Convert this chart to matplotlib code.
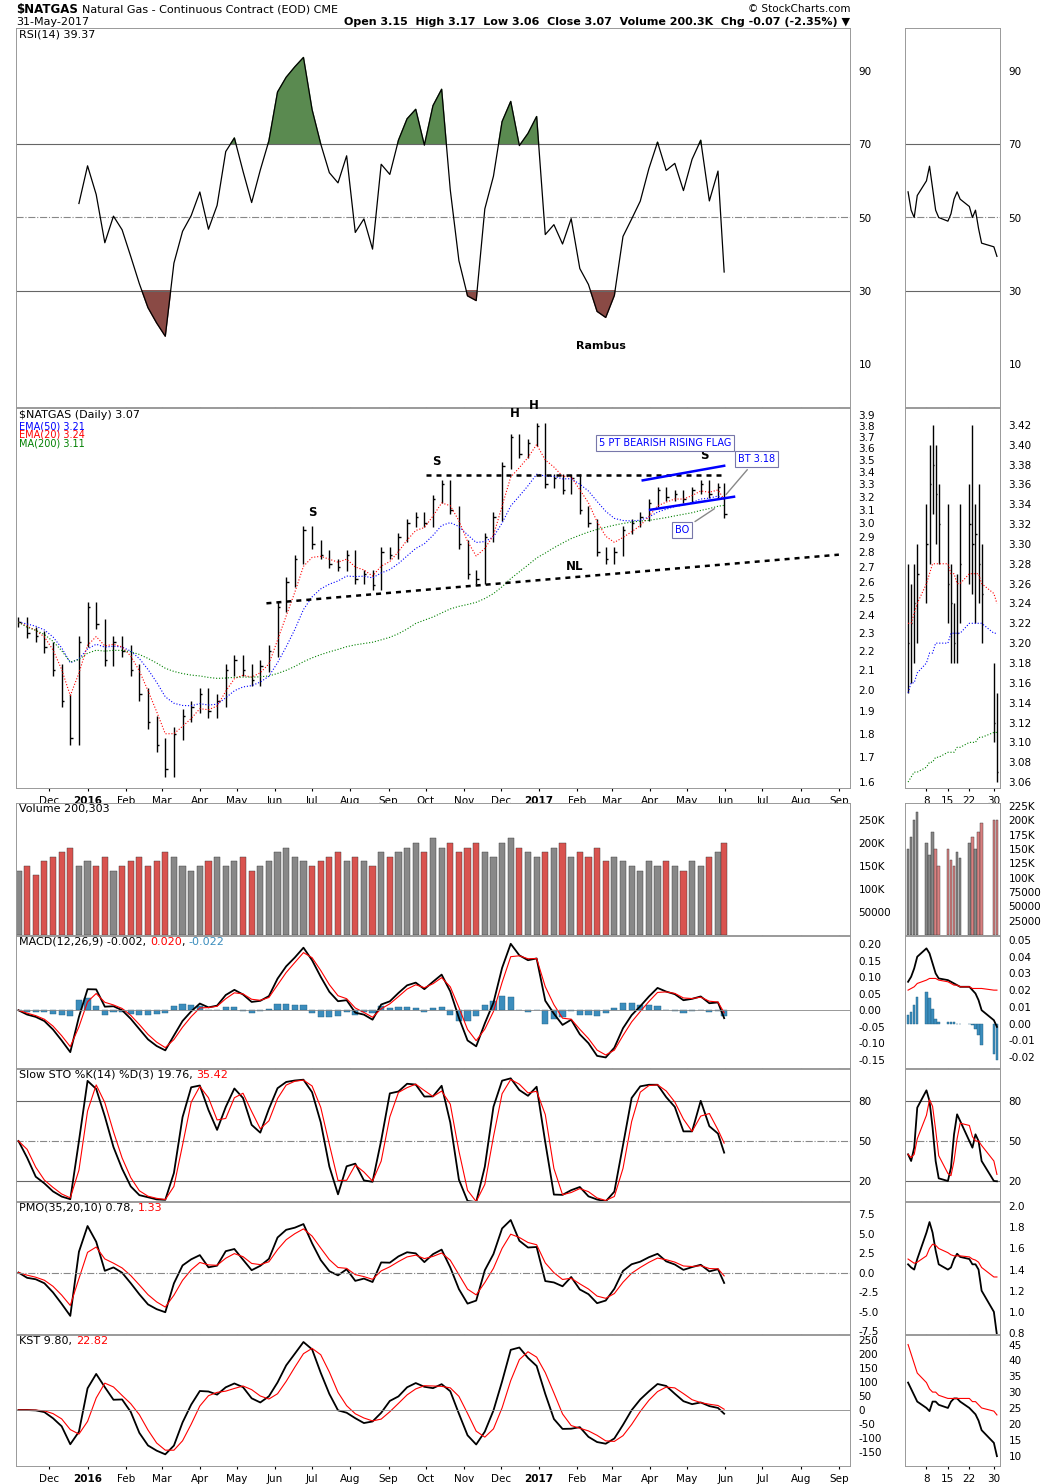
import numpy as np
import pandas as pd
import matplotlib
matplotlib.use("Agg")
import matplotlib.pyplot as plt
import matplotlib.dates as mdates
from matplotlib.ticker import FixedLocator, NullFormatter, NullLocator

plt.rcParams["axes.unicode_minus"] = False

# weekly closes Nov-2015 .. May-2017 (last value = 31-May)
closes = [2.36, 2.30, 2.28, 2.22,
          2.10, 1.95, 1.78, 2.25,
          2.45, 2.35, 2.15, 2.25, 2.20,
          2.10, 1.98, 1.85, 1.75,
          1.65, 1.80, 1.88, 1.92,
          1.98, 1.90, 1.95, 2.10, 2.15,
          2.10, 2.05, 2.12, 2.20,
          2.45, 2.60, 2.75, 2.95,
          2.85, 2.78, 2.72, 2.70, 2.78,
          2.62, 2.65, 2.58, 2.80,
          2.78, 2.90, 3.00, 3.05, 3.00,
          3.18, 3.30, 3.10, 2.85,
          2.65, 2.62, 2.90, 3.05,
          3.45, 3.70, 3.55, 3.65, 3.80,
          3.30, 3.35, 3.25, 3.35,
          3.10, 3.00, 2.80, 2.75,
          2.80, 2.95, 3.00, 3.05, 3.15,
          3.25, 3.20, 3.22, 3.18,
          3.25, 3.30, 3.22, 3.28,
          3.07]
volume_k = [140, 150, 130, 160,
            170, 180, 190, 150,
            160, 150, 170, 140, 150,
            160, 170, 150, 160,
            180, 170, 150, 140,
            150, 160, 170, 150, 160,
            170, 140, 150, 160,
            180, 190, 170, 160,
            150, 160, 170, 180, 160,
            170, 160, 150, 180,
            170, 180, 190, 200, 180,
            210, 190, 200, 180,
            190, 200, 180, 170,
            200, 210, 190, 180, 170,
            180, 190, 200, 170,
            180, 170, 190, 160,
            170, 160, 150, 140, 160,
            150, 160, 150, 140,
            160, 150, 170, 180,
            200]

# daily May-2017 detail
mini_dates = ["2017-05-02", "2017-05-03", "2017-05-04", "2017-05-05", "2017-05-08", "2017-05-09",
              "2017-05-10", "2017-05-11", "2017-05-12", "2017-05-15", "2017-05-16", "2017-05-17",
              "2017-05-18", "2017-05-19", "2017-05-22", "2017-05-23", "2017-05-24", "2017-05-25",
              "2017-05-26", "2017-05-30", "2017-05-31"]
close_m = [3.20, 3.22, 3.24, 3.27, 3.30, 3.36, 3.38, 3.35, 3.32, 3.26, 3.24, 3.20, 3.21, 3.28,
           3.32, 3.30, 3.31, 3.28, 3.25, 3.12, 3.07]
high_m = [3.28, 3.26, 3.28, 3.30, 3.34, 3.40, 3.42, 3.40, 3.36, 3.34, 3.28, 3.24, 3.27, 3.34,
          3.36, 3.42, 3.34, 3.36, 3.30, 3.18, 3.15]
low_m = [3.15, 3.16, 3.18, 3.20, 3.24, 3.28, 3.33, 3.30, 3.28, 3.22, 3.18, 3.18, 3.18, 3.22,
         3.26, 3.25, 3.22, 3.24, 3.20, 3.10, 3.06]
ema50_m = [3.15, 3.16, 3.16, 3.17, 3.18, 3.19, 3.19, 3.20, 3.20, 3.20, 3.21, 3.21, 3.21, 3.21,
           3.22, 3.22, 3.22, 3.22, 3.22, 3.21, 3.21]
ema20_m = [3.22, 3.22, 3.23, 3.24, 3.26, 3.27, 3.28, 3.28, 3.28, 3.28, 3.27, 3.27, 3.26, 3.26,
           3.27, 3.27, 3.27, 3.27, 3.26, 3.25, 3.24]
ma200_m = [3.06, 3.065, 3.07, 3.07, 3.075, 3.08, 3.08, 3.085, 3.085, 3.09, 3.09, 3.09, 3.095,
           3.095, 3.10, 3.10, 3.10, 3.105, 3.105, 3.11, 3.11]
rsi_m = [57, 52, 50, 56, 60, 64, 58, 52, 50, 49, 51, 55, 57, 55, 53, 50, 52, 47, 43, 42, 39.4]
vol_m = [150, 170, 200, 215, 160, 140, 180, 150, 120, 150, 130, 120, 145, 135, 160, 170, 150,
         180, 195, 200, 200]
macd_m = [0.025, 0.028, 0.033, 0.040, 0.045, 0.042, 0.036, 0.030, 0.027, 0.026, 0.025, 0.024,
          0.023, 0.022, 0.022, 0.020, 0.018, 0.014, 0.008, 0.002, -0.002]
sig_m = [0.020, 0.021, 0.022, 0.024, 0.026, 0.027, 0.027, 0.027, 0.026, 0.025, 0.024, 0.023,
         0.023, 0.022, 0.022, 0.021, 0.021, 0.021, 0.021, 0.020, 0.020]
k_m = [40, 35, 45, 75, 88, 80, 60, 35, 22, 20, 30, 55, 70, 65, 50, 45, 55, 50, 35, 20, 19.8]
pmo_m = [1.45, 1.42, 1.40, 1.50, 1.75, 1.85, 1.75, 1.58, 1.45, 1.40, 1.42, 1.50, 1.55, 1.52,
         1.50, 1.45, 1.45, 1.40, 1.20, 1.00, 0.78]
pmos_m = [1.50, 1.48, 1.46, 1.47, 1.53, 1.60, 1.64, 1.63, 1.60, 1.56, 1.54, 1.53, 1.53, 1.53,
          1.52, 1.50, 1.49, 1.47, 1.42, 1.33, 1.33]
kst_m = [33, 31, 29, 27, 25, 24, 27, 27, 26, 25, 27, 28, 28, 27, 25, 24, 23, 21, 18, 14, 9.8]
ksts_m = [45, 42, 39, 36, 33, 31, 30, 30, 29, 28, 28, 28, 28, 28, 28, 27, 27, 26, 25, 24, 22.8]

month_ticks = ["2015-12-01", "2016-01-01", "2016-02-01", "2016-03-01", "2016-04-01", "2016-05-01",
               "2016-06-01", "2016-07-01", "2016-08-01", "2016-09-01", "2016-10-01", "2016-11-01",
               "2016-12-01", "2017-01-01", "2017-02-01", "2017-03-01", "2017-04-01", "2017-05-01",
               "2017-06-01", "2017-07-01", "2017-08-01", "2017-09-01"]
month_labels = ["Dec", "2016", "Feb", "Mar", "Apr", "May", "Jun", "Jul", "Aug", "Sep", "Oct", "Nov",
                "Dec", "2017", "Feb", "Mar", "Apr", "May", "Jun", "Jul", "Aug", "Sep"]

# ---- series ----
dates = list(pd.date_range("2015-11-06", periods=len(closes) - 1, freq="W-FRI")) + [pd.Timestamp("2017-05-31")]
c = pd.Series(closes, index=dates)
prev = c.shift(1).fillna(c.iloc[0])
hi = np.maximum(prev, c) + 0.03
lo = np.minimum(prev, c) - 0.03

def ema(s, n):
    return s.ewm(span=n, adjust=False).mean()

ema50 = ema(c, 10)
ema20 = ema(c, 4)
ma200 = c.rolling(40, min_periods=1).mean()
d = c.diff()
up = d.clip(lower=0).ewm(alpha=1/5, adjust=False).mean()
dn = (-d.clip(upper=0)).ewm(alpha=1/5, adjust=False).mean()
rsi = (100 - 100 / (1 + up / dn.replace(0, np.nan))).fillna(50)
rsi = rsi.iloc[7:]  # skip warm-up weeks
macd = ema(c, 3) - ema(c, 6)
macd_sig = ema(macd, 2)
ll = lo.rolling(4, min_periods=1).min()
hh = hi.rolling(4, min_periods=1).max()
k = (100 * (c - ll) / (hh - ll)).rolling(2, min_periods=1).mean()
dline = k.rolling(2, min_periods=1).mean()
roc = c.pct_change().fillna(0) * 100
pmo = ema(ema(roc, 4), 2)
pmo_sig = ema(pmo, 3)
kst = 0.8 * sum(w * c.pct_change(p).fillna(0).rolling(2, min_periods=1).mean() * 100
                for w, p in [(1, 2), (2, 3), (3, 4), (4, 6)])
kst_sig = kst.rolling(3, min_periods=1).mean()

md = pd.to_datetime(mini_dates)
cm = pd.Series(close_m, index=md)

# ---- layout ----
W, H = 1050, 1484
fig = plt.figure(figsize=(W / 100, H / 100), dpi=100)

def rect(x0, x1, y0, y1):
    return [x0 / W, 1 - y1 / H, (x1 - x0) / W, (y1 - y0) / H]

panels = [(28, 407), (408, 788), (803, 935), (936, 1068), (1069, 1201), (1202, 1334), (1335, 1466)]
main_axes, mini_axes = [], []
for y0, y1 in panels:
    a = fig.add_axes(rect(16, 850, y0, y1))
    b = fig.add_axes(rect(905, 1000, y0, y1))
    for ax in (a, b):
        ax.tick_params(axis="y", left=False, labelleft=False, right=True, labelright=True,
                       labelsize=7.5, length=0, pad=6)
        ax.tick_params(axis="x", labelsize=7.5, length=2)
        for s in ax.spines.values():
            s.set_color("#999999")
            s.set_linewidth(0.7)
    a.set_xlim(pd.Timestamp("2015-11-04"), pd.Timestamp("2017-09-10"))
    b.set_xlim(pd.Timestamp("2017-05-01"), pd.Timestamp("2017-06-01"))
    main_axes.append(a)
    mini_axes.append(b)

for ax in main_axes:
    ax.xaxis.set_major_locator(FixedLocator(mdates.date2num(pd.to_datetime(month_ticks))))
    ax.set_xticklabels([])
for ax in mini_axes:
    ax.xaxis.set_major_locator(FixedLocator(mdates.date2num(pd.to_datetime(
        ["2017-05-08", "2017-05-15", "2017-05-22", "2017-05-30"]))))
    ax.set_xticklabels([])
for i in (1, 6):
    main_axes[i].set_xticklabels(month_labels)
    for t in main_axes[i].get_xticklabels():
        if t.get_text() in ("2016", "2017"):
            t.set_fontweight("bold")
    mini_axes[i].set_xticklabels(["8", "15", "22", "30"])

renderer = fig.canvas.get_renderer()

def label(ax, parts):
    # draw coloured pieces one after another along the top-left of a panel
    x = 0.004
    for txt, col in parts:
        t = ax.text(x, 0.995, txt, transform=ax.transAxes, va="top", fontsize=8, color=col)
        bb = t.get_window_extent(renderer=renderer)
        x += bb.width / ax.get_window_extent(renderer=renderer).width

# ---- RSI ----
a, b = main_axes[0], mini_axes[0]
for ax in (a, b):
    ax.set_ylim(-1.7, 101.7)
    ax.yaxis.set_major_locator(FixedLocator([10, 30, 50, 70, 90]))
    ax.axhline(70, color="#666666", lw=0.8)
    ax.axhline(30, color="#666666", lw=0.8)
    ax.axhline(50, color="#888888", lw=0.8, ls="-.")
a.plot(rsi.index, rsi, color="black", lw=0.9)
a.fill_between(rsi.index, rsi, 70, where=rsi > 70, color="#5a8a50", interpolate=True)
a.fill_between(rsi.index, rsi, 30, where=rsi < 30, color="#8a4a45", interpolate=True)
b.plot(md, rsi_m, color="black", lw=0.9)
label(a, [("RSI(14) 39.37", "black")])
a.text(pd.Timestamp("2017-02-20"), 14, "Rambus", fontsize=8, fontweight="bold", ha="center")

# ---- price ----
a, b = main_axes[1], mini_axes[1]
a.set_yscale("log")
a.set_ylim(1.577, 3.97)
a.yaxis.set_major_locator(FixedLocator(np.round(np.arange(1.6, 3.95, 0.1), 1)))
a.yaxis.set_minor_locator(NullLocator())
a.yaxis.set_major_formatter(plt.FuncFormatter(lambda v, p: f"{v:.1f}"))
a.yaxis.set_minor_formatter(NullFormatter())
a.vlines(c.index, lo, hi, color="black", lw=1.0)
a.hlines(c.values, c.index, c.index + pd.Timedelta(days=2), color="black", lw=1.0)
a.plot(c.index, ema50, color="blue", lw=0.8, ls=":")
a.plot(c.index, ema20, color="red", lw=0.8, ls=":")
a.plot(c.index, ma200, color="green", lw=0.8, ls=":")
T = pd.Timestamp
a.plot([T("2016-05-25"), T("2017-09-01")], [2.47, 2.78], color="black", lw=1.8, ls=(0, (2, 2)))
a.plot([T("2016-10-01"), T("2017-06-01")], [3.37, 3.37], color="black", lw=1.8, ls=(0, (2, 2)))
a.plot([T("2017-03-26"), T("2017-05-31")], [3.33, 3.45], color="blue", lw=1.8)
a.plot([T("2017-04-01"), T("2017-06-08")], [3.10, 3.20], color="blue", lw=1.8)
for dt, y, t in [("2016-07-01", 3.03, "S"), ("2016-10-10", 3.43, "S"), ("2016-12-12", 3.86, "H"),
                 ("2016-12-28", 3.93, "H"), ("2017-05-15", 3.48, "S"), ("2017-01-30", 2.66, "NL")]:
    a.text(T(dt), y, t, fontsize=8.5, fontweight="bold", ha="center", va="bottom")
box = dict(boxstyle="square,pad=0.3", fc="white", ec="#7777aa", lw=0.8)
a.text(T("2017-04-13"), 3.62, "5 PT BEARISH RISING FLAG", fontsize=7, color="blue", ha="center", bbox=box)
a.annotate("BT 3.18", xy=(T("2017-05-31"), 3.20), xytext=(T("2017-06-26"), 3.48), fontsize=7,
           color="blue", ha="center", bbox=box, arrowprops=dict(arrowstyle="-", color="#888888"))
a.annotate("BO", xy=(T("2017-05-25"), 3.12), xytext=(T("2017-04-27"), 2.93), fontsize=7,
           color="blue", ha="center", bbox=box, arrowprops=dict(arrowstyle="-", color="#888888"))
label(a, [("$NATGAS (Daily) 3.07", "black")])
a.text(0.004, 0.965, "EMA(50) 3.21", transform=a.transAxes, va="top", fontsize=7, color="blue")
a.text(0.004, 0.943, "EMA(20) 3.24", transform=a.transAxes, va="top", fontsize=7, color="red")
a.text(0.004, 0.921, "MA(200) 3.11", transform=a.transAxes, va="top", fontsize=7, color="green")
b.set_ylim(3.054, 3.437)
b.yaxis.set_major_locator(FixedLocator(np.round(np.arange(3.06, 3.43, 0.02), 2)))
b.vlines(md, low_m, high_m, color="black", lw=1.0)
b.hlines(close_m, md, md + pd.Timedelta(hours=10), color="black", lw=1.0)
b.plot(md, ema50_m, color="blue", lw=0.8, ls=":")
b.plot(md, ema20_m, color="red", lw=0.8, ls=":")
b.plot(md, ma200_m, color="green", lw=0.8, ls=":")

# ---- volume ----
a, b = main_axes[2], mini_axes[2]
vcol = ["#888888" if x >= p else "#d9534f" for x, p in zip(c.values, prev.values)]
a.bar(c.index, np.array(volume_k) * 1000, width=5, color=vcol, edgecolor="#333333", lw=0.3)
a.set_ylim(0, 287000)
a.yaxis.set_major_locator(FixedLocator([50000, 100000, 150000, 200000, 250000]))
a.set_yticklabels(["50000", "100K", "150K", "200K", "250K"])
pm = cm.shift(1).fillna(cm.iloc[0])
vcm = ["#888888" if x >= p else "#d98080" for x, p in zip(cm.values, pm.values)]
b.bar(md, np.array(vol_m) * 1000, width=0.8, color=vcm, edgecolor="#333333", lw=0.3)
b.set_ylim(0, 230000)
b.yaxis.set_major_locator(FixedLocator(np.arange(25000, 225001, 25000)))
b.set_yticklabels(["25000", "50000", "75000", "100K", "125K", "150K", "175K", "200K", "225K"])
label(a, [("Volume 200,303", "black")])

# ---- MACD ----
a, b = main_axes[3], mini_axes[3]
a.bar(c.index, macd - macd_sig, width=5, color="#3b8dbd", edgecolor="#1f5f80", lw=0.3)
a.plot(c.index, macd, color="black", lw=1.3)
a.plot(c.index, macd_sig, color="red", lw=0.8)
a.axhline(0, color="#888888", lw=0.6)
a.set_ylim(-0.174, 0.224)
a.yaxis.set_major_locator(FixedLocator(np.round(np.arange(-0.15, 0.21, 0.05), 2)))
a.yaxis.set_major_formatter(plt.FuncFormatter(lambda v, p: f"{v:.2f}"))
b.bar(md, np.array(macd_m) - np.array(sig_m), width=0.8, color="#3b8dbd", edgecolor="#1f5f80", lw=0.3)
b.plot(md, macd_m, color="black", lw=1.3)
b.plot(md, sig_m, color="red", lw=0.8)
b.set_ylim(-0.0266, 0.0524)
b.yaxis.set_major_locator(FixedLocator(np.round(np.arange(-0.02, 0.051, 0.01), 2)))
b.yaxis.set_major_formatter(plt.FuncFormatter(lambda v, p: f"{v:.2f}"))
label(a, [("MACD(12,26,9) -0.002, ", "black"), ("0.020", "red"), (", ", "black"), ("-0.022", "#3b8dbd")])

# ---- STO ----
a, b = main_axes[4], mini_axes[4]
for ax in (a, b):
    ax.set_ylim(5, 104)
    ax.yaxis.set_major_locator(FixedLocator([20, 50, 80]))
    ax.axhline(80, color="#666666", lw=0.8)
    ax.axhline(20, color="#666666", lw=0.8)
    ax.axhline(50, color="#888888", lw=0.8, ls="-.")
a.plot(c.index, k, color="black", lw=1.3)
a.plot(c.index, dline, color="red", lw=0.8)
b.plot(md, k_m, color="black", lw=1.3)
b.plot(md, pd.Series(k_m).rolling(3, min_periods=1).mean().values, color="red", lw=0.8)
label(a, [("Slow STO %K(14) %D(3) 19.76, ", "black"), ("35.42", "red")])

# ---- PMO ----
a, b = main_axes[5], mini_axes[5]
a.plot(c.index, pmo, color="black", lw=1.3)
a.plot(c.index, pmo_sig, color="red", lw=0.8)
a.axhline(0, color="#888888", lw=0.8, ls="-.")
a.set_ylim(-7.88, 9.04)
a.yaxis.set_major_locator(FixedLocator(np.arange(-7.5, 7.6, 2.5)))
a.yaxis.set_major_formatter(plt.FuncFormatter(lambda v, p: f"{v:.1f}"))
b.plot(md, pmo_m, color="black", lw=1.3)
b.plot(md, pmos_m, color="red", lw=0.8)
b.set_ylim(0.79, 2.04)
b.yaxis.set_major_locator(FixedLocator(np.round(np.arange(0.8, 2.01, 0.2), 1)))
b.yaxis.set_major_formatter(plt.FuncFormatter(lambda v, p: f"{v:.1f}"))
label(a, [("PMO(35,20,10) 0.78, ", "black"), ("1.33", "red")])

# ---- KST ----
a, b = main_axes[6], mini_axes[6]
a.plot(c.index, kst, color="black", lw=1.3)
a.plot(c.index, kst_sig, color="red", lw=0.8)
a.axhline(0, color="#888888", lw=0.6)
a.set_ylim(-200, 268)
a.yaxis.set_major_locator(FixedLocator(np.arange(-150, 251, 50)))
b.plot(md, kst_m, color="black", lw=1.3)
b.plot(md, ksts_m, color="red", lw=0.8)
b.set_ylim(6.7, 48)
b.yaxis.set_major_locator(FixedLocator(np.arange(10, 46, 5)))
label(a, [("KST 9.80, ", "black"), ("22.82", "red")])

# ---- header ----
t = fig.text(16 / W, 1 - 10 / H, "$NATGAS", fontsize=8.5, fontweight="bold", va="center")
x_after = (t.get_window_extent(renderer=renderer).x1 + 4) / W
fig.text(x_after, 1 - 10 / H, "Natural Gas - Continuous Contract (EOD) CME", fontsize=8, va="center")
fig.text(16 / W, 1 - 22 / H, "31-May-2017", fontsize=8, va="center")
fig.text(850 / W, 1 - 9 / H, "© StockCharts.com", fontsize=7.5, va="center", ha="right")
fig.text(850 / W, 1 - 22 / H, "Open 3.15  High 3.17  Low 3.06  Close 3.07  Volume 200.3K  Chg -0.07 (-2.35%) ▼",
         fontsize=8, va="center", ha="right", fontweight="bold")

fig.savefig("out.png", dpi=100)
